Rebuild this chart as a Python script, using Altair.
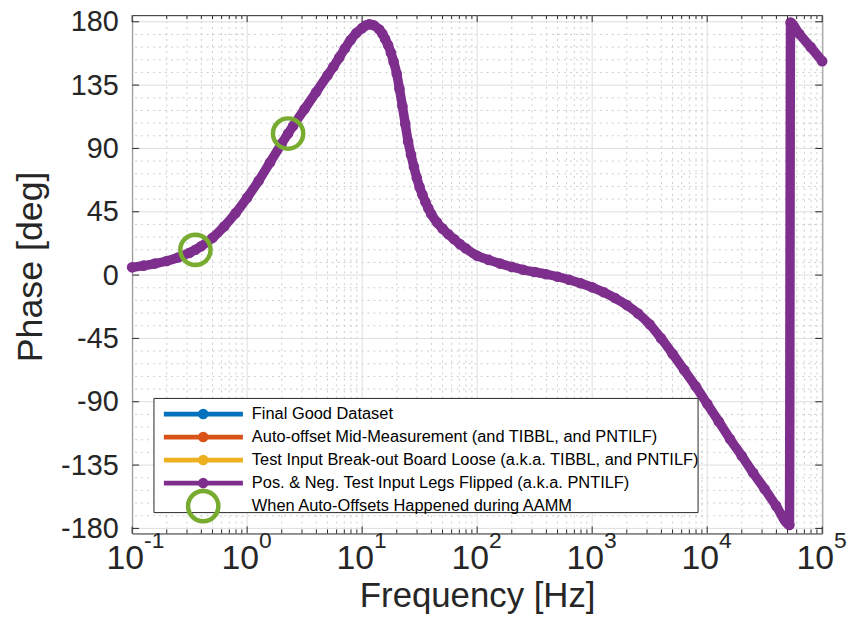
import altair as alt
import pandas as pd

# ---------------- data ----------------
freq = [0.1, 0.126, 0.158, 0.2, 0.251, 0.316, 0.355, 0.398, 0.501, 0.631, 0.794,
        1.0, 1.26, 1.58, 2.0, 2.27, 2.51, 3.16, 3.98, 5.01, 5.62, 6.31, 7.08, 7.94, 8.91,
        10.0, 10.7, 11.5, 12.6, 14.1, 15.0, 15.8, 16.8, 17.8, 18.8, 20.0, 21.1, 22.4, 23.7, 25.1, 26.6,
        28.2, 29.9, 31.6, 33.5, 35.5, 37.6, 39.8, 44.7, 50.1, 56.2, 63.1, 70.8, 79.4,
        100, 126, 158, 200, 251, 316, 398, 501, 631, 794,
        1000, 1260, 1580, 2000, 2510, 3160, 3980, 5010, 6310, 7940,
        10000, 12600, 15800, 20000, 25100, 31600, 39800, 51900, 53100, 63100, 79400, 100000]
phase = [5.5, 6.7, 8.2, 10.0, 12.5, 15.8, 18.0, 20.5, 26.5, 34.5, 44.0,
         55.0, 67.0, 80.0, 93.5, 100.6, 106.0, 118.0, 130.0, 142.0, 148.0, 154.5, 161.0, 167.0, 172.0,
         175.5, 177.3, 178.2, 177.5, 174.5, 171.5, 168.0, 163.5, 158.0, 151.5, 143.0, 132.5, 120.0, 107.5, 95.0, 85.5,
         77.0, 69.0, 62.5, 57.0, 52.0, 47.5, 43.5, 37.5, 33.0, 29.0, 25.5, 22.0, 19.0,
         13.7, 10.8, 8.2, 5.8, 3.8, 2.2, 0.6, -1.2, -3.3, -5.8,
         -8.7, -12.2, -16.3, -21.3, -27.3, -35.0, -45.0, -56.0, -67.5, -79.0,
         -91.5, -104.0, -116.5, -128.5, -140.5, -152.0, -164.0, -177.5, 179.5, 171.5, 162.0, 152.0]

event_freq = [0.355, 2.27]
event_phase = [17.9, 100.6]

legend_labels = [
    "Final Good Dataset",
    "Auto-offset Mid-Measurement (and TIBBL, and PNTILF)",
    "Test Input Break-out Board Loose (a.k.a. TIBBL, and PNTILF)",
    "Pos. & Neg. Test Input Legs Flipped (a.k.a. PNTILF)",
    "When Auto-Offsets Happened during AAMM",
]
series_colors = ["#0072BD", "#D95319", "#EDB120", "#7E2F8E"]
event_color = "#77AC30"

x_major = [0.1, 1, 10, 100, 1000, 10000, 100000]
x_exponents = ["-1", "0", "1", "2", "3", "4", "5"]
x_minor = [m * 10.0 ** k for k in range(-1, 5) for m in range(2, 10)]
y_major = list(range(-180, 181, 45))
y_minor = [v for v in range(-180, 181, 9) if v % 45 != 0]

# ---------------- layout ----------------
W, H = 695, 522
FONT = "Liberation Sans, Arial, Helvetica, sans-serif"
AX = "#262626"
PURPLE = series_colors[3]

xs = alt.Scale(type="log", domain=[0.1, 100000], nice=False)
ys = alt.Scale(domain=[-183.6, 184.7], nice=False, zero=False)

main_df = pd.DataFrame({"freq": freq, "phase": phase})
ev_df = pd.DataFrame({"freq": event_freq, "phase": event_phase})
xmaj_df = pd.DataFrame({"freq": x_major, "base": ["10"] * len(x_major), "exp": x_exponents})
xmin_df = pd.DataFrame({"freq": x_minor})
ymaj_df = pd.DataFrame({"phase": y_major})
ymin_df = pd.DataFrame({"phase": y_minor})

X = lambda: alt.X("freq:Q", scale=xs)
Y = lambda: alt.Y("phase:Q", scale=ys)

grid_minor_x = alt.Chart(xmin_df).mark_rule(color="#cdcdcd", strokeWidth=1, strokeDash=[2, 4]).encode(x=X())
grid_minor_y = alt.Chart(ymin_df).mark_rule(color="#cdcdcd", strokeWidth=1, strokeDash=[2, 4]).encode(y=Y())
grid_major_x = alt.Chart(xmaj_df).mark_rule(color="#dedede", strokeWidth=1).encode(x=X())
grid_major_y = alt.Chart(ymaj_df).mark_rule(color="#dedede", strokeWidth=1).encode(y=Y())

line = alt.Chart(main_df).mark_line(
    color=PURPLE, strokeWidth=9.5, strokeCap="round", strokeJoin="round", interpolate="monotone"
).encode(
    x=alt.X("freq:Q", scale=xs,
            axis=alt.Axis(labels=False, ticks=False, domain=False, grid=False,
                          title="Frequency [Hz]", titleFont=FONT, titleFontSize=35,
                          titleFontWeight="normal", titleColor=AX,
                          titleX=W / 2, titleY=74, titleAlign="center",
                          titleBaseline="alphabetic")),
    y=alt.Y("phase:Q", scale=ys,
            axis=alt.Axis(values=y_major, labelExpr="'' + datum.value",
                          labelFont=FONT, labelFontSize=29, labelColor=AX,
                          labelPadding=14, ticks=False, domain=False, grid=False,
                          labelOverlap=False,
                          title="Phase [deg]", titleFont=FONT, titleFontSize=36,
                          titleFontWeight="normal", titleColor=AX,
                          titleAngle=270, titleX=-91, titleY=253,
                          titleAlign="center", titleBaseline="alphabetic")),
)
points = alt.Chart(main_df).mark_point(
    filled=True, shape="circle", size=115, color=PURPLE, opacity=1
).encode(x=X(), y=Y())

events = alt.Chart(ev_df).mark_point(
    filled=False, shape="circle", size=930, color=event_color, strokeWidth=4.5, opacity=1
).encode(x=X(), y=Y())

# ---------------- legend ----------------
one = alt.Data(values=[{}])
legend_layers = [
    alt.Chart(one).mark_rect(fill="white", stroke=AX, strokeWidth=1).encode(
        x=alt.value(22), x2=alt.value(570), y=alt.value(386), y2=alt.value(501))
]
row0, step = 401.7, 23.2
for i, lab in enumerate(legend_labels):
    ry = row0 + step * i
    if i < 4:
        c = series_colors[i]
        legend_layers.append(
            alt.Chart(one).mark_rule(color=c, strokeWidth=4.8).encode(
                x=alt.value(32), x2=alt.value(111.6), y=alt.value(ry)))
        legend_layers.append(
            alt.Chart(one).mark_point(filled=True, shape="circle", size=112, color=c, opacity=1).encode(
                x=alt.value(71.6), y=alt.value(ry)))
    else:
        legend_layers.append(
            alt.Chart(one).mark_point(filled=False, shape="circle", size=930, color=event_color,
                                      strokeWidth=4.5, opacity=1).encode(
                x=alt.value(71.6), y=alt.value(ry)))
    legend_layers.append(
        alt.Chart(alt.Data(values=[{"label": lab}])).mark_text(
            align="left", baseline="middle", font=FONT, fontSize=16.5, color="black"
        ).encode(x=alt.value(120.6), y=alt.value(ry), text="label:N"))

# ---------------- ticks (inward, on all four sides) ----------------
tick_layers = [
    alt.Chart(xmaj_df).mark_rule(color=AX, strokeWidth=1).encode(x=X(), y=alt.value(H), y2=alt.value(H - 7)),
    alt.Chart(xmaj_df).mark_rule(color=AX, strokeWidth=1).encode(x=X(), y=alt.value(0), y2=alt.value(7)),
    alt.Chart(xmin_df).mark_rule(color=AX, strokeWidth=1).encode(x=X(), y=alt.value(H), y2=alt.value(H - 4)),
    alt.Chart(xmin_df).mark_rule(color=AX, strokeWidth=1).encode(x=X(), y=alt.value(0), y2=alt.value(4)),
    alt.Chart(ymaj_df).mark_rule(color=AX, strokeWidth=1).encode(y=Y(), x=alt.value(0), x2=alt.value(7)),
    alt.Chart(ymaj_df).mark_rule(color=AX, strokeWidth=1).encode(y=Y(), x=alt.value(W), x2=alt.value(W - 7)),
]

# ---------------- x tick labels 10^k ----------------
xlab_base = alt.Chart(xmaj_df).mark_text(
    align="right", baseline="alphabetic", font=FONT, fontSize=34, color=AX, dx=12
).encode(x=X(), y=alt.value(H + 36), text="base:N")
xlab_exp = alt.Chart(xmaj_df).mark_text(
    align="left", baseline="alphabetic", font=FONT, fontSize=23, color=AX, dx=12
).encode(x=X(), y=alt.value(H + 15), text="exp:N")

chart = alt.layer(
    grid_minor_x, grid_minor_y, grid_major_x, grid_major_y,
    line, points, events,
    *legend_layers,
    *tick_layers,
    xlab_base, xlab_exp,
).properties(
    width=W, height=H,
    padding={"left": 125, "top": 5, "right": 26, "bottom": 94},
    autosize=alt.AutoSizeParams(type="none"),
).configure(
    background="white"
).configure_view(
    stroke=AX, strokeWidth=1
).configure_axis(
    grid=False, ticks=False, domain=False
)

chart.save("out.html", embed_options={"renderer": "svg", "actions": False})
